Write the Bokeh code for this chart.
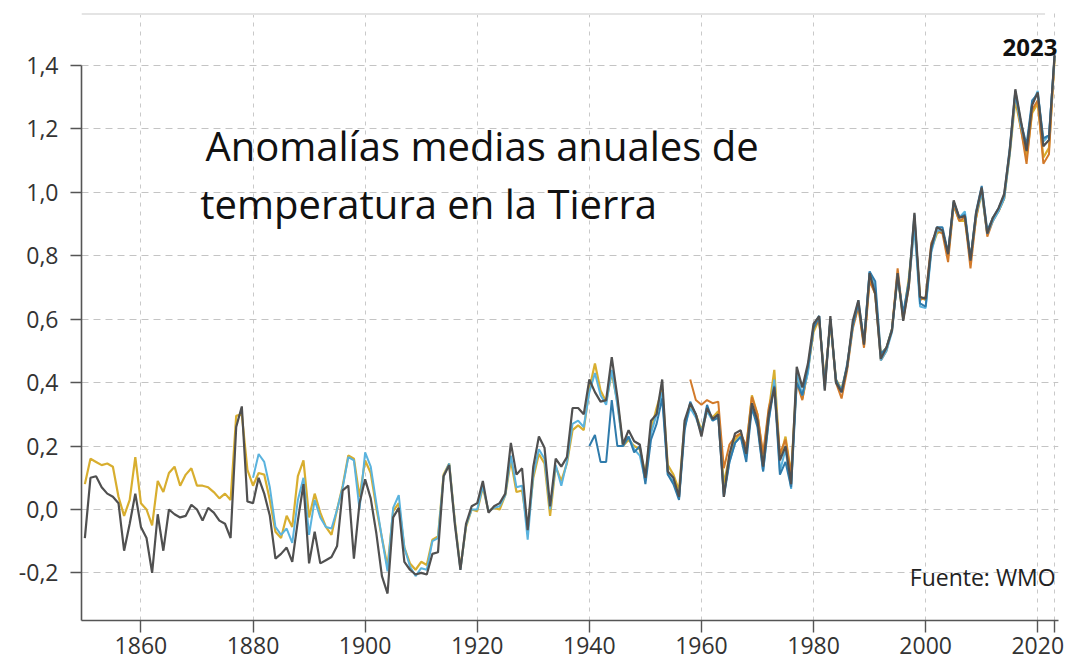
from bokeh.plotting import figure
from bokeh.models import FixedTicker, CustomJSTickFormatter, Label, Range1d
from bokeh.embed import file_html
from bokeh.resources import INLINE

# ---------------- data (anomalies, degC vs 1850-1900) ----------------
years_a = list(range(1850, 2024))   # dark gray and gold series
years_b = list(range(1880, 2024))   # light blue series
years_c = list(range(1940, 2024))   # dark blue series
years_d = list(range(1958, 2024))   # orange series

gray = [
    -0.09, 0.10, 0.105, 0.07, 0.05, 0.04, 0.02, -0.13, -0.045, 0.05,
    -0.055, -0.09, -0.20, -0.015, -0.13, 0.00, -0.015, -0.025, -0.02, 0.015,
    0.00, -0.035, 0.005, -0.01, -0.035, -0.045, -0.09, 0.26, 0.325, 0.025,
    0.02, 0.10, 0.05, -0.02, -0.155, -0.14, -0.12, -0.165, -0.035, 0.08,
    -0.17, -0.07, -0.17, -0.16, -0.15, -0.115, 0.06, 0.075, -0.155, 0.02,
    0.095, 0.035, -0.075, -0.21, -0.265, -0.025, 0.005, -0.165, -0.19, -0.205,
    -0.20, -0.205, -0.14, -0.135, 0.105, 0.14, -0.045, -0.19, -0.045, 0.01,
    0.02, 0.09, -0.01, 0.01, 0.02, 0.05, 0.21, 0.11, 0.13, -0.065,
    0.135, 0.23, 0.195, 0.01, 0.16, 0.135, 0.165, 0.32, 0.32, 0.30,
    0.41, 0.37, 0.34, 0.345, 0.48, 0.355, 0.205, 0.25, 0.215, 0.205,
    0.10, 0.28, 0.30, 0.41, 0.12, 0.10, 0.04, 0.28, 0.335, 0.30,
    0.23, 0.32, 0.285, 0.30, 0.04, 0.175, 0.24, 0.25, 0.175, 0.335,
    0.28, 0.135, 0.30, 0.385, 0.155, 0.20, 0.08, 0.45, 0.385, 0.46,
    0.585, 0.61, 0.375, 0.61, 0.40, 0.37, 0.45, 0.595, 0.66, 0.52,
    0.745, 0.68, 0.475, 0.51, 0.565, 0.745, 0.595, 0.705, 0.935, 0.67,
    0.665, 0.83, 0.89, 0.88, 0.805, 0.975, 0.92, 0.925, 0.785, 0.935,
    1.015, 0.87, 0.92, 0.95, 0.995, 1.13, 1.325, 1.225, 1.13, 1.275,
    1.315, 1.145, 1.165, 1.435,
]

gold = [
    0.08, 0.16, 0.15, 0.14, 0.145, 0.135, 0.04, -0.02, 0.03, 0.165,
    0.02, 0.00, -0.05, 0.09, 0.055, 0.115, 0.135, 0.075, 0.11, 0.13,
    0.075, 0.075, 0.07, 0.055, 0.035, 0.05, 0.03, 0.295, 0.30, 0.125,
    0.075, 0.115, 0.11, 0.03, -0.07, -0.09, -0.02, -0.055, 0.105, 0.155,
    -0.025, 0.05, -0.01, -0.055, -0.08, 0.00, 0.075, 0.17, 0.16, 0.04,
    0.155, 0.115, 0.005, -0.09, -0.18, -0.005, 0.02, -0.12, -0.17, -0.19,
    -0.165, -0.175, -0.095, -0.085, 0.11, 0.145, -0.035, -0.185, -0.055, 0.00,
    -0.005, 0.07, -0.005, 0.005, 0.00, 0.045, 0.155, 0.055, 0.06, -0.06,
    0.10, 0.175, 0.145, -0.02, 0.135, 0.09, 0.145, 0.25, 0.265, 0.25,
    0.38, 0.46, 0.375, 0.34, 0.43, 0.34, 0.20, 0.22, 0.20, 0.19,
    0.11, 0.25, 0.32, 0.38, 0.14, 0.11, 0.06, 0.27, 0.33, 0.30,
    0.25, 0.31, 0.29, 0.31, 0.08, 0.17, 0.22, 0.24, 0.19, 0.36,
    0.30, 0.16, 0.31, 0.44, 0.16, 0.23, 0.11, 0.42, 0.35, 0.44,
    0.56, 0.60, 0.40, 0.59, 0.41, 0.38, 0.45, 0.58, 0.64, 0.52,
    0.73, 0.68, 0.49, 0.51, 0.57, 0.74, 0.60, 0.73, 0.90, 0.67,
    0.66, 0.82, 0.87, 0.88, 0.80, 0.96, 0.91, 0.91, 0.79, 0.92,
    1.00, 0.87, 0.92, 0.94, 0.98, 1.12, 1.29, 1.20, 1.11, 1.25,
    1.28, 1.11, 1.14, 1.42,
]

light_blue = [
    0.10, 0.175, 0.15, 0.07, -0.055, -0.08, -0.06, -0.105, 0.03, 0.10,
    -0.08, 0.03, -0.025, -0.055, -0.06, 0.00, 0.07, 0.165, 0.155, 0.00,
    0.18, 0.135, 0.02, -0.09, -0.195, 0.005, 0.045, -0.12, -0.18, -0.21,
    -0.185, -0.19, -0.10, -0.09, 0.105, 0.145, -0.04, -0.19, -0.05, 0.00,
    0.00, 0.075, -0.005, 0.005, 0.01, 0.045, 0.17, 0.07, 0.075, -0.095,
    0.11, 0.19, 0.16, 0.00, 0.14, 0.075, 0.15, 0.27, 0.28, 0.26,
    0.37, 0.43, 0.36, 0.33, 0.44, 0.33, 0.20, 0.23, 0.19, 0.17,
    0.09, 0.24, 0.30, 0.37, 0.11, 0.09, 0.035, 0.26, 0.32, 0.29,
    0.24, 0.31, 0.28, 0.30, 0.05, 0.15, 0.21, 0.23, 0.17, 0.33,
    0.27, 0.12, 0.28, 0.41, 0.12, 0.19, 0.065, 0.43, 0.36, 0.43,
    0.58, 0.61, 0.38, 0.60, 0.40, 0.38, 0.45, 0.58, 0.66, 0.53,
    0.75, 0.70, 0.47, 0.50, 0.56, 0.74, 0.61, 0.71, 0.89, 0.64,
    0.635, 0.81, 0.88, 0.88, 0.81, 0.97, 0.92, 0.94, 0.79, 0.93,
    1.00, 0.87, 0.91, 0.94, 0.98, 1.12, 1.31, 1.21, 1.14, 1.28,
    1.32, 1.16, 1.18, 1.43,
]

dark_blue = [
    0.20, 0.235, 0.15, 0.15, 0.345, 0.20, 0.20, 0.23, 0.18, 0.20,
    0.08, 0.22, 0.27, 0.35, 0.11, 0.08, 0.03, 0.25, 0.34, 0.30,
    0.24, 0.33, 0.28, 0.29, 0.04, 0.15, 0.21, 0.23, 0.15, 0.32,
    0.26, 0.12, 0.28, 0.39, 0.11, 0.15, 0.07, 0.40, 0.36, 0.45,
    0.57, 0.61, 0.39, 0.60, 0.41, 0.37, 0.46, 0.58, 0.65, 0.53,
    0.75, 0.72, 0.49, 0.51, 0.57, 0.73, 0.62, 0.72, 0.93, 0.65,
    0.64, 0.82, 0.89, 0.89, 0.81, 0.97, 0.92, 0.93, 0.79, 0.94,
    1.02, 0.88, 0.92, 0.95, 0.99, 1.14, 1.32, 1.22, 1.15, 1.29,
    1.31, 1.17, 1.18, 1.43,
]

orange = [
    0.41, 0.345, 0.33, 0.345, 0.335, 0.34, 0.13, 0.205, 0.23, 0.24,
    0.20, 0.355, 0.30, 0.175, 0.32, 0.39, 0.175, 0.22, 0.11, 0.40,
    0.345, 0.44, 0.575, 0.595, 0.40, 0.595, 0.40, 0.35, 0.44, 0.57,
    0.64, 0.51, 0.72, 0.68, 0.47, 0.50, 0.57, 0.76, 0.60, 0.70,
    0.92, 0.66, 0.67, 0.84, 0.88, 0.87, 0.78, 0.96, 0.91, 0.92,
    0.76, 0.92, 1.01, 0.86, 0.91, 0.94, 0.98, 1.13, 1.31, 1.20,
    1.09, 1.26, 1.29, 1.09, 1.12, 1.43,
]

x_ticks = [1860, 1880, 1900, 1920, 1940, 1960, 1980, 2000, 2020, 2023]
y_ticks = [-0.2, 0.0, 0.2, 0.4, 0.6, 0.8, 1.0, 1.2, 1.4]

title_lines = ["Anomalías medias anuales de", "temperatura en la Tierra"]
last_year_label = "2023"
source_label = "Fuente: WMO"

# ---------------- figure ----------------
p = figure(
    width=1064, height=663,
    x_range=Range1d(1849.4, 2023.7), y_range=Range1d(-0.35, 1.567),
    output_backend="svg", toolbar_location=None,
    min_border_left=81, min_border_right=6, min_border_top=12, min_border_bottom=43,
)
p.outline_line_color = None
p.background_fill_color = "white"
p.border_fill_color = "white"

# top faint rule
p.segment(x0=[1849.4], y0=[1.562], x1=[2021.3], y1=[1.562], line_color="#e4e4e4", line_width=2)

font = "Open Sans"
# axes
p.xaxis.ticker = FixedTicker(ticks=x_ticks)
p.xaxis.formatter = CustomJSTickFormatter(code="return tick > 2021 ? '' : tick.toFixed(0);")
p.yaxis.ticker = FixedTicker(ticks=y_ticks)
p.yaxis.formatter = CustomJSTickFormatter(code="return tick.toFixed(1).replace('.', ',');")
p.yaxis.bounds = (-0.35, 1.4)
for ax in (p.xaxis[0], p.yaxis[0]):
    ax.axis_line_color = "#555555"
    ax.axis_line_width = 1.6
    ax.major_tick_line_color = "#555555"
    ax.major_tick_line_width = 1.4
    ax.major_tick_in = 0
    ax.minor_tick_line_color = None
    ax.major_label_text_font = font
    ax.major_label_text_font_size = "23px"
    ax.major_label_text_color = "#333333"
p.xaxis.major_tick_out = 12
p.xaxis.major_label_standoff = 4
p.yaxis.major_tick_out = 11
p.yaxis.major_label_standoff = 12

# grids
p.xgrid.ticker = FixedTicker(ticks=x_ticks)
p.ygrid.ticker = FixedTicker(ticks=y_ticks)
p.xgrid.bounds = (-0.35, 1.4)
p.xgrid.grid_line_color = "#c9c9c9"
p.xgrid.grid_line_dash = "4 5"
p.xgrid.grid_line_width = 1
p.ygrid.grid_line_color = "#c4c4c4"
p.ygrid.grid_line_dash = "7 5"
p.ygrid.grid_line_width = 1

# series
p.line(years_a, gold, line_color="#d8ae2f", line_width=2.2)
p.line(years_d, orange, line_color="#d27a2a", line_width=2.0)
p.line(years_b, light_blue, line_color="#5ab3de", line_width=2.0)
p.line(years_c, dark_blue, line_color="#2f7bab", line_width=2.0)
p.line(years_a, gray, line_color="#505050", line_width=2.2)

# texts
p.add_layout(Label(x=1871.5, y=1.1475, text=title_lines[0], text_font=font,
                   text_font_size="40px", text_color="#111111", text_baseline="alphabetic"))
p.add_layout(Label(x=1870.6, y=0.965, text=title_lines[1], text_font=font,
                   text_font_size="40px", text_color="#111111", text_baseline="alphabetic"))
p.add_layout(Label(x=2023.5, y=1.456, text=last_year_label, text_font=font,
                   text_font_size="24px", text_font_style="bold", text_color="#111111",
                   text_align="right", text_baseline="alphabetic"))
p.add_layout(Label(x=2023.2, y=-0.2144, text=source_label, text_font=font,
                   text_font_size="23px", text_color="#222222", text_align="right",
                   text_baseline="alphabetic"))

open("out.html", "w").write(file_html(p, INLINE))
